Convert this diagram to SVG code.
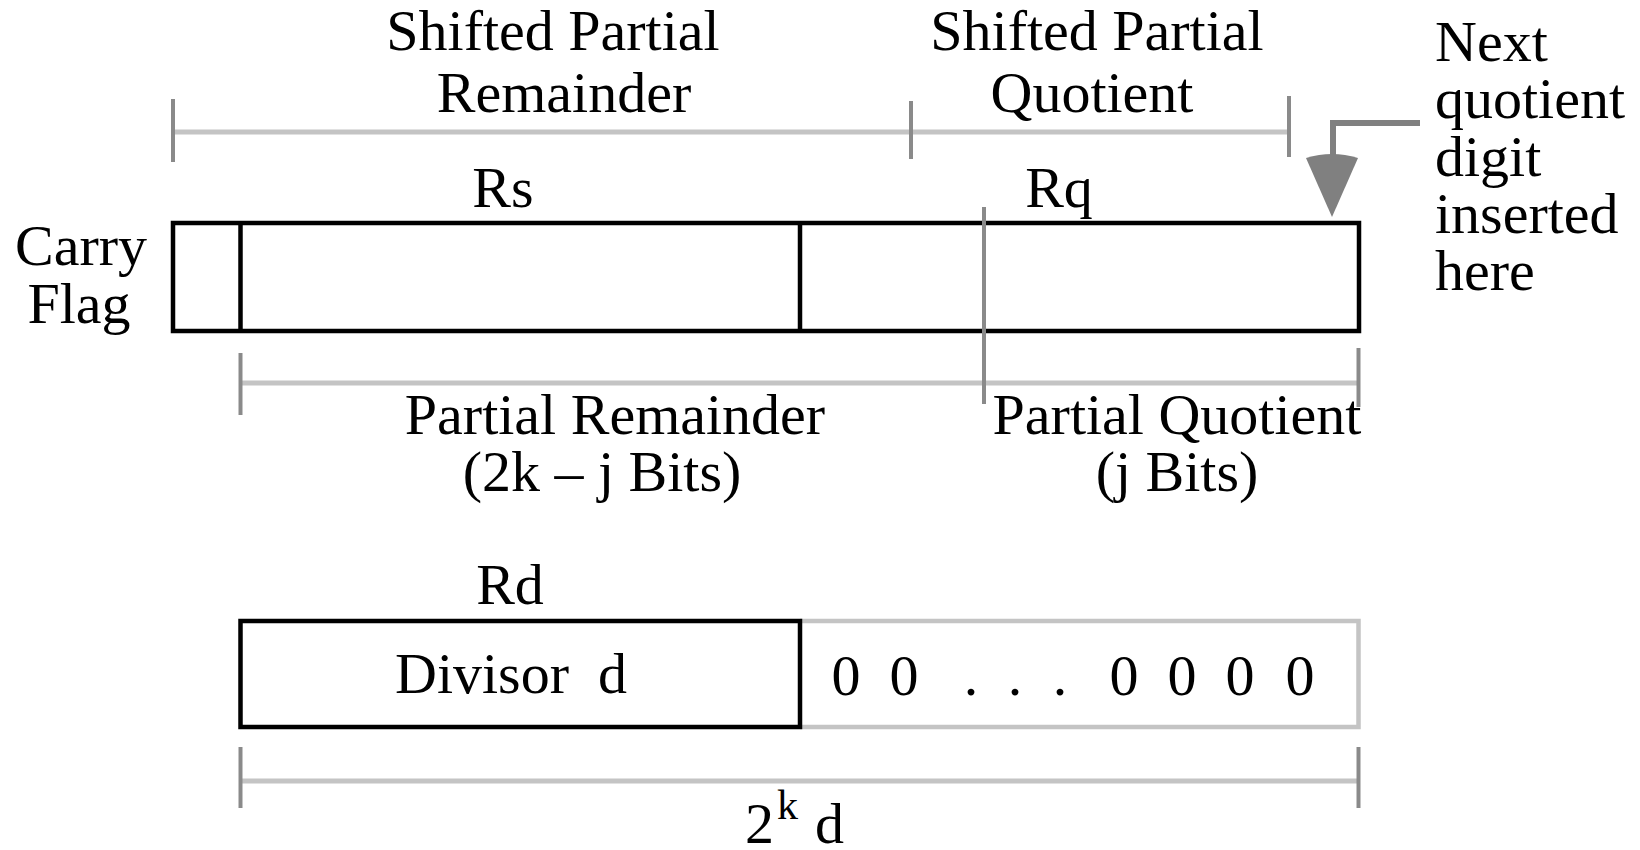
<svg xmlns="http://www.w3.org/2000/svg" width="1640" height="850" viewBox="0 0 1640 850">
<style>
text{font-family:"Liberation Serif","Times New Roman",serif;font-size:58px;fill:#000}
.c{text-anchor:middle}
.box{fill:none;stroke:#000;stroke-width:4.5}
.lbox{fill:none;stroke:#c4c4c4;stroke-width:4.5}
.dim{stroke:#c4c4c4;stroke-width:5;fill:none}
.tick{stroke:#8a8a8a;stroke-width:4;fill:none}
.arr{stroke:#808080;stroke-width:6;fill:none}
</style>
<rect width="1640" height="850" fill="#fff"/>
<g id="top-labels">
<text class="c" x="553" y="50">Shifted Partial</text>
<text class="c" x="564" y="112">Remainder</text>
<text class="c" x="1097" y="50">Shifted Partial</text>
<text class="c" x="1092" y="112">Quotient</text>
</g>
<g id="next-label">
<text x="1435" y="61">Next</text>
<text x="1435" y="118">quotient</text>
<text x="1435" y="176">digit</text>
<text x="1435" y="233">inserted</text>
<text x="1435" y="290">here</text>
</g>
<g id="carry-label">
<text class="c" x="81" y="265">Carry</text>
<text class="c" x="79" y="323">Flag</text>
</g>
<g id="register-rs-rq">
<text class="c" x="503" y="207">Rs</text>
<text class="c" x="1059" y="207">Rq</text>
<rect class="box" x="173" y="223" width="1186" height="108"/>
<line class="box" x1="240.5" y1="223" x2="240.5" y2="331"/>
<line class="box" x1="800" y1="223" x2="800" y2="331"/>
</g>
<g id="register-rd">
<text class="c" x="510" y="604">Rd</text>
<path class="lbox" d="M800 621 H1358.5 V727 H800"/>
<rect class="box" x="240.5" y="621" width="559.5" height="106"/>
<text class="c" x="511" y="693" xml:space="preserve">Divisor  d</text>
<text class="c" x="846 875 904 937 971 993 1015 1037 1060 1092 1124 1153 1182 1211 1240 1270 1300" y="695">0 0 . . . 0 0 0 0</text>
</g>
<g id="connectors">
<line class="dim" x1="173" y1="132" x2="1289" y2="132"/>
<line class="tick" x1="173" y1="99" x2="173" y2="162"/>
<line class="tick" x1="911" y1="101" x2="911" y2="159"/>
<line class="tick" x1="1289" y1="96" x2="1289" y2="157"/>
<line class="dim" x1="240.5" y1="383" x2="1358.5" y2="383"/>
<line class="tick" x1="240.5" y1="353" x2="240.5" y2="415"/>
<line class="tick" x1="1358.5" y1="348" x2="1358.5" y2="407"/>
<line class="tick" x1="984" y1="207" x2="984" y2="404"/>
<line class="dim" x1="240.5" y1="781" x2="1358.5" y2="781"/>
<line class="tick" x1="240.5" y1="747" x2="240.5" y2="808"/>
<line class="tick" x1="1358.5" y1="747" x2="1358.5" y2="808"/>
<path class="arr" d="M1420 123 H1333 V192"/>
<path d="M1306 158 Q1332 150 1358 158 L1332 217 Z" fill="#808080"/>
</g>
<g id="dim-labels">
<text class="c" x="615" y="434">Partial Remainder</text>
<text class="c" x="602" y="491">(2k – j Bits)</text>
<text class="c" x="1177" y="434">Partial Quotient</text>
<text class="c" x="1177" y="491">(j Bits)</text>
<text x="745" y="843">2</text>
<text x="777" y="819" style="font-size:42px">k</text>
<text x="815" y="843">d</text>
</g>
</svg>
